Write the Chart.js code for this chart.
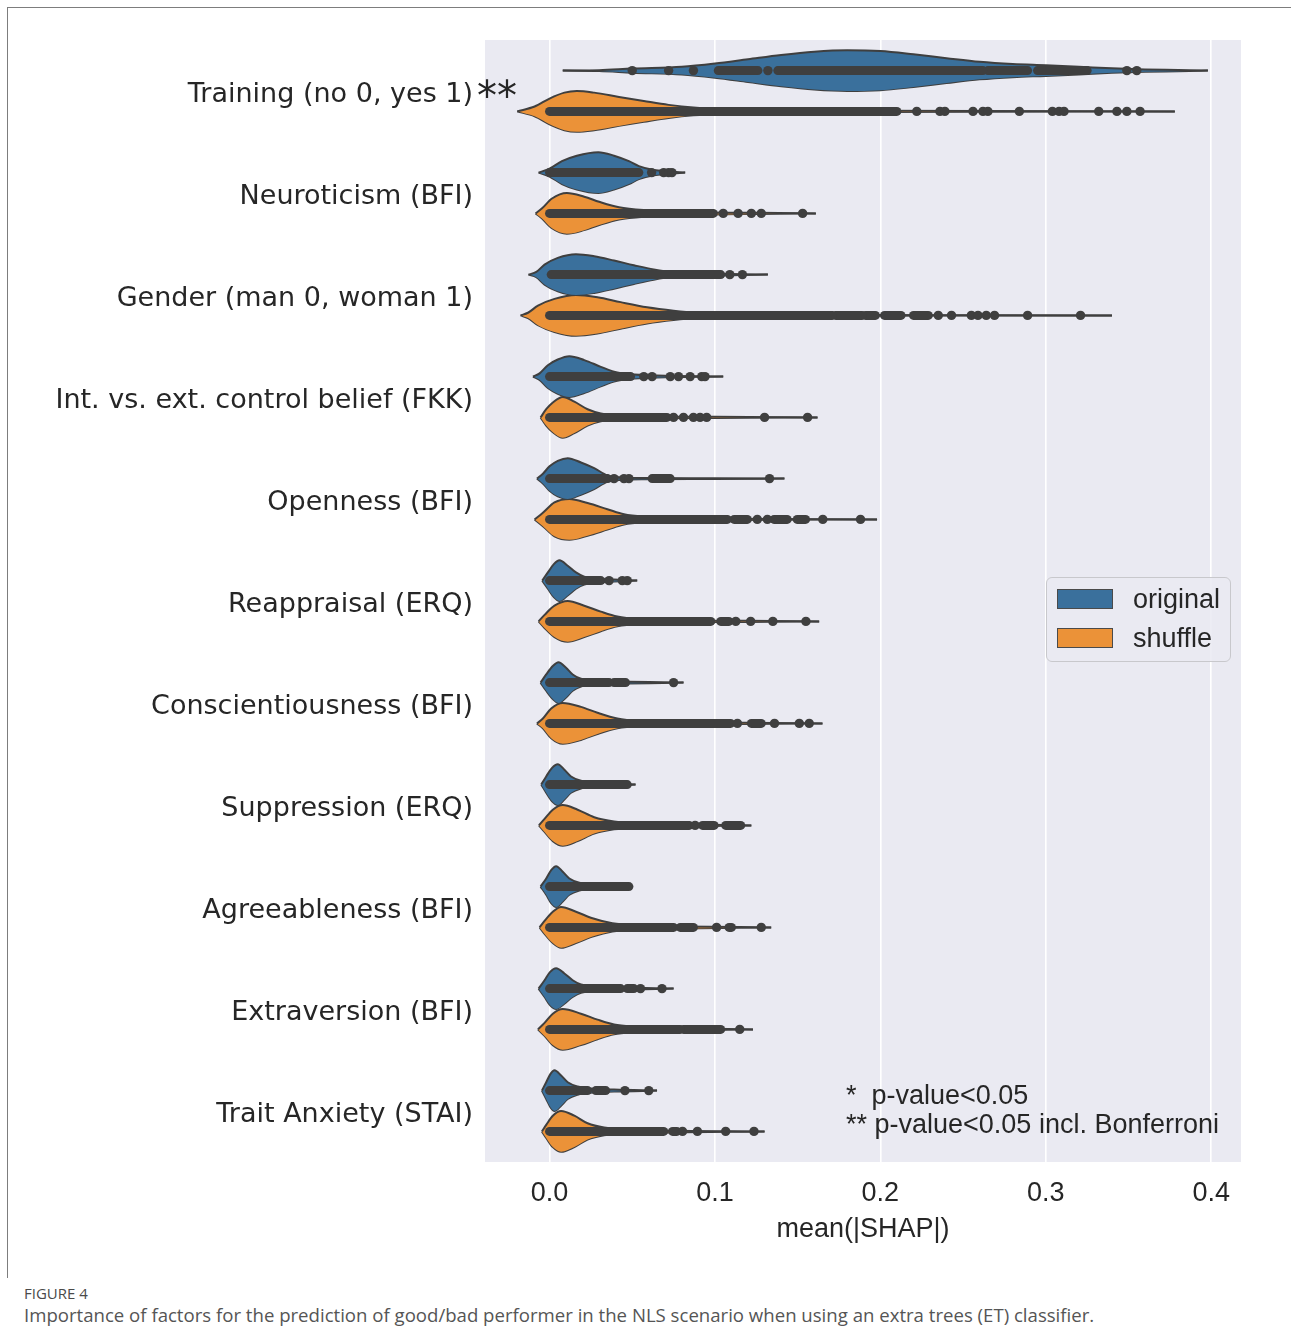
<!DOCTYPE html>
<html>
<head>
<meta charset="utf-8">
<script src="https://cdn.jsdelivr.net/npm/chart.js@4.4.1/dist/chart.umd.min.js"></script>
<style>
  html, body { margin: 0; padding: 0; background: #fff; }
  #wrap { position: relative; width: 1291px; height: 1331px; overflow: hidden; }
  #frame { position: absolute; left: 7px; top: 7px; width: 1300px; height: 1270px;
    border-left: 1px solid #7d7d7d; border-top: 1px solid #7d7d7d; }
  #chart { position: absolute; left: 0; top: 0; }
  .lab { position: absolute; font-family: "Liberation Sans", Arial, sans-serif; font-size: 27px;
    color: #262626; white-space: pre; line-height: 30px; }
  #stars { position: absolute; left: 477px; top: 76px; font-family: "DejaVu Sans", sans-serif;
    font-size: 40px; color: #262626; line-height: 40px; }
  #legend { position: absolute; left: 1046px; top: 577px; width: 183px; height: 83px;
    border: 1.5px solid #c8c8cc; border-radius: 6px; background: rgba(234,234,242,0.85); }
  .patch { position: absolute; left: 10px; width: 54px; height: 18px; border: 1px solid #4a4a4a; }
  .ltxt { position: absolute; left: 86px; font-family: "Liberation Sans", Arial, sans-serif;
    font-size: 27px; color: #262626; line-height: 30px; }
  #fig { position: absolute; left: 24px; top: 1283px; font-family: "Open Sans", sans-serif;
    font-size: 15px; color: #4a4a4a; }
  #cap { position: absolute; left: 24px; top: 1302px; font-family: "Open Sans", sans-serif;
    font-size: 18.6px; color: #555; white-space: nowrap; }
</style>
</head>
<body>
<div id="wrap">
  <div id="frame"></div>
  <canvas id="chart" width="1291" height="1280"></canvas>
  <div id="stars">**</div>
  <div id="legend">
    <div class="patch" style="top:11px;background:#3a709c"></div>
    <div class="ltxt" style="top:6px">original</div>
    <div class="patch" style="top:50px;background:#eb9238"></div>
    <div class="ltxt" style="top:45px">shuffle</div>
  </div>
  <div class="lab" style="left:846px;top:1080px">*  p-value&lt;0.05</div>
  <div class="lab" style="left:846px;top:1109px">** p-value&lt;0.05 incl. Bonferroni</div>
  <div id="fig">FIGURE 4</div>
  <div id="cap">Importance of factors for the prediction of good/bad performer in the NLS scenario when using an extra trees (ET) classifier.</div>
</div>
<script>
// Violin plot of mean(|SHAP|) per factor: original vs. shuffled labels.
// Each violin = outline (x, relative density 0..1), dense point runs [from, to], single points.

const categories = ['Training (no 0, yes 1)', 'Neuroticism (BFI)', 'Gender (man 0, woman 1)',
  'Int. vs. ext. control belief (FKK)', 'Openness (BFI)', 'Reappraisal (ERQ)',
  'Conscientiousness (BFI)', 'Suppression (ERQ)', 'Agreeableness (BFI)', 'Extraversion (BFI)',
  'Trait Anxiety (STAI)'];
const xTicks = [0.0, 0.1, 0.2, 0.3, 0.4];

// outline of "original" violins: x positions and relative half-width
const origShapeX = [
  [0.008, 0.03, 0.05, 0.08, 0.10, 0.12, 0.14, 0.16, 0.18, 0.20, 0.22, 0.24, 0.26, 0.28, 0.30, 0.32, 0.34, 0.36, 0.38, 0.398],
  [-0.0066, 0.0, 0.0075, 0.0165, 0.0295, 0.039, 0.048, 0.054, 0.063, 0.072, 0.082],
  [-0.0127, -0.008, -0.003, 0.005, 0.016, 0.027, 0.039, 0.051, 0.063, 0.075, 0.089, 0.11, 0.132],
  [-0.01, -0.006, -0.001, 0.005, 0.012, 0.021, 0.031, 0.039, 0.049, 0.065, 0.105],
  [-0.0076, -0.004, 0.0, 0.005, 0.011, 0.019, 0.027, 0.035, 0.043, 0.059, 0.1, 0.142],
  [-0.0044, -0.001, 0.0026, 0.006, 0.011, 0.016, 0.021, 0.029, 0.039, 0.053],
  [-0.0054, -0.002, 0.002, 0.0054, 0.01, 0.014, 0.019, 0.027, 0.043, 0.081],
  [-0.005, -0.002, 0.0014, 0.005, 0.009, 0.013, 0.019, 0.027, 0.039, 0.052],
  [-0.0054, -0.002, 0.001, 0.004, 0.008, 0.012, 0.018, 0.026, 0.037, 0.05],
  [-0.0066, -0.003, 0.0004, 0.004, 0.009, 0.014, 0.019, 0.029, 0.043, 0.075],
  [-0.0046, -0.002, 0.0006, 0.003, 0.007, 0.011, 0.017, 0.025, 0.039, 0.065],
];
const origShapeW = [
  [0, 0.02, 0.1, 0.19, 0.35, 0.56, 0.77, 0.93, 1.0, 0.96, 0.8, 0.61, 0.43, 0.32, 0.26, 0.19, 0.11, 0.06, 0.03, 0],
  [0, 0.19, 0.56, 0.83, 1.0, 0.83, 0.56, 0.32, 0.13, 0.06, 0],
  [0, 0.13, 0.49, 0.82, 1.0, 0.9, 0.69, 0.46, 0.25, 0.11, 0.07, 0.03, 0],
  [0, 0.16, 0.56, 0.84, 1.0, 0.81, 0.48, 0.24, 0.11, 0.05, 0],
  [0, 0.24, 0.6, 0.87, 1.0, 0.79, 0.51, 0.16, 0.06, 0.03, 0.016, 0],
  [0, 0.4, 0.81, 1.0, 0.73, 0.4, 0.19, 0.1, 0.05, 0],
  [0, 0.4, 0.81, 1.0, 0.73, 0.4, 0.19, 0.1, 0.05, 0],
  [0, 0.4, 0.81, 1.0, 0.73, 0.4, 0.19, 0.1, 0.05, 0],
  [0, 0.4, 0.81, 1.0, 0.73, 0.4, 0.19, 0.1, 0.05, 0],
  [0, 0.41, 0.82, 1.0, 0.74, 0.41, 0.2, 0.1, 0.05, 0],
  [0, 0.41, 0.82, 1.0, 0.74, 0.41, 0.2, 0.1, 0.05, 0],
];
// outline of "shuffle" violins
const shufShapeX = [
  [-0.0195, -0.009, 0.0, 0.009, 0.0165, 0.027, 0.042, 0.057, 0.072, 0.087, 0.108, 0.138, 0.2, 0.26, 0.378],
  [-0.0084, -0.0045, 0.0015, 0.0105, 0.021, 0.03, 0.042, 0.057, 0.078, 0.099, 0.126, 0.161],
  [-0.0175, -0.013, -0.007, 0.003, 0.016, 0.029, 0.043, 0.059, 0.075, 0.089, 0.12, 0.16, 0.2, 0.26, 0.34],
  [-0.0054, -0.002, 0.002, 0.008, 0.015, 0.023, 0.031, 0.043, 0.059, 0.1, 0.162],
  [-0.009, -0.004, 0.003, 0.012, 0.023, 0.035, 0.045, 0.059, 0.079, 0.11, 0.198],
  [-0.0066, -0.003, 0.003, 0.011, 0.021, 0.031, 0.041, 0.055, 0.079, 0.12, 0.163],
  [-0.0076, -0.004, 0.001, 0.008, 0.019, 0.029, 0.041, 0.055, 0.079, 0.12, 0.165],
  [-0.0064, -0.003, 0.002, 0.008, 0.017, 0.027, 0.039, 0.055, 0.079, 0.122],
  [-0.006, -0.003, 0.002, 0.007, 0.016, 0.026, 0.038, 0.054, 0.078, 0.134],
  [-0.007, -0.003, 0.002, 0.008, 0.019, 0.029, 0.039, 0.051, 0.071, 0.1, 0.123],
  [-0.0046, -0.002, 0.002, 0.007, 0.015, 0.023, 0.033, 0.049, 0.069, 0.13],
];
const shufShapeW = [
  [0, 0.24, 0.63, 0.92, 1.0, 0.92, 0.71, 0.51, 0.32, 0.19, 0.11, 0.06, 0.03, 0.015, 0],
  [0, 0.25, 0.73, 1.0, 0.82, 0.57, 0.3, 0.16, 0.1, 0.05, 0.03, 0],
  [0, 0.13, 0.48, 0.81, 1.0, 0.89, 0.65, 0.4, 0.23, 0.13, 0.06, 0.03, 0.016, 0.008, 0],
  [0, 0.4, 0.73, 1.0, 0.77, 0.4, 0.19, 0.1, 0.05, 0.03, 0],
  [0, 0.33, 0.83, 1.0, 0.8, 0.5, 0.25, 0.13, 0.07, 0.03, 0],
  [0, 0.32, 0.77, 1.0, 0.77, 0.48, 0.24, 0.11, 0.05, 0.03, 0],
  [0, 0.24, 0.73, 1.0, 0.81, 0.52, 0.24, 0.11, 0.05, 0.03, 0],
  [0, 0.32, 0.77, 1.0, 0.77, 0.4, 0.19, 0.1, 0.05, 0],
  [0, 0.32, 0.77, 1.0, 0.77, 0.45, 0.2, 0.1, 0.05, 0],
  [0, 0.32, 0.77, 1.0, 0.77, 0.48, 0.24, 0.13, 0.06, 0.03, 0],
  [0, 0.32, 0.77, 1.0, 0.77, 0.4, 0.19, 0.1, 0.05, 0],
];

// runs of overlapping observations [from, to]
const origBands = [
  [[0.102, 0.126], [0.138, 0.262], [0.265, 0.289], [0.295, 0.325]],
  [[0.0, 0.054]],
  [[0.001, 0.1035]],
  [[0.0, 0.049]],
  [[0.0, 0.035], [0.062, 0.073]],
  [[0.0, 0.031]],
  [[0.0, 0.036], [0.039, 0.046]],
  [[0.0, 0.047]],
  [[0.0, 0.048]],
  [[0.0, 0.043], [0.047, 0.051]],
  [[0.0, 0.023], [0.028, 0.034]],
];
const shufBands = [
  [[0.0, 0.21]],
  [[0.0, 0.099]],
  [[0.0, 0.171], [0.173, 0.189], [0.191, 0.197], [0.2025, 0.2125], [0.22, 0.229]],
  [[0.0, 0.071]],
  [[0.0, 0.1075], [0.1116, 0.1196], [0.1357, 0.1437], [0.1497, 0.1548]],
  [[0.0, 0.0975], [0.1035, 0.1085]],
  [[0.0, 0.1095], [0.122, 0.128]],
  [[0.0, 0.0845], [0.0925, 0.0995], [0.1065, 0.1156]],
  [[0.0, 0.075], [0.079, 0.087], [0.1085, 0.11]],
  [[0.0, 0.079], [0.081, 0.1035]],
  [[0.0, 0.069], [0.0744, 0.077]],
];
// single observations
const origDots = [
  [0.05, 0.072, 0.087, 0.132, 0.349, 0.355],
  [0.0617, 0.069, 0.072, 0.074],
  [0.109, 0.1166],
  [0.057, 0.062, 0.073, 0.078, 0.085, 0.092, 0.094],
  [0.039, 0.045, 0.048, 0.133],
  [0.036, 0.044, 0.047],
  [0.075],
  [],
  [],
  [0.055, 0.068],
  [0.0456, 0.06],
];
const shufDots = [
  [0.222, 0.236, 0.239, 0.256, 0.262, 0.265, 0.284, 0.304, 0.308, 0.311, 0.332, 0.343, 0.349, 0.357],
  [0.105, 0.114, 0.122, 0.128, 0.153],
  [0.235, 0.243, 0.255, 0.259, 0.264, 0.269, 0.289, 0.321],
  [0.075, 0.081, 0.087, 0.091, 0.095, 0.13, 0.156],
  [0.1256, 0.1317, 0.1652, 0.188],
  [0.1126, 0.1216, 0.135, 0.155],
  [0.1136, 0.136, 0.151, 0.157],
  [0.088],
  [0.101, 0.128],
  [0.115],
  [0.0804, 0.0894, 0.1065, 0.1236],
];

const HUES = [
  { name: 'original', color: '#3a709c', off: -0.2, sx: origShapeX, sw: origShapeW, bands: origBands, dots: origDots },
  { name: 'shuffle', color: '#eb9238', off: 0.2, sx: shufShapeX, sw: shufShapeW, bands: shufBands, dots: shufDots },
];
const HALF = 0.2;        // max half-width of a violin, in category units
const EDGE = '#3f3f3f';

const datasets = [];
const dotData = [];
HUES.forEach((h) => {
  categories.forEach((cat, i) => {
    const c = i + h.off;
    const xs = h.sx[i], ws = h.sw[i];
    const common = { borderColor: EDGE, borderWidth: 2, pointRadius: 0, cubicInterpolationMode: 'monotone', order: 3 };
    datasets.push({ ...common, label: h.name, data: xs.map((x, k) => ({ x, y: c - ws[k] * HALF })),
      fill: '+1', backgroundColor: h.color });
    datasets.push({ ...common, label: h.name, data: xs.map((x, k) => ({ x, y: c + ws[k] * HALF })),
      fill: false });
    h.bands[i].forEach(([a, b]) => {
      datasets.push({ data: [{ x: a, y: c }, { x: b, y: c }], borderColor: EDGE, borderWidth: 9,
        borderCapStyle: 'round', pointRadius: 0, fill: false, order: 1 });
    });
    h.dots[i].forEach((x) => dotData.push({ x, y: c }));
  });
});
datasets.push({ data: dotData, showLine: false, pointRadius: 4.7, pointBackgroundColor: EDGE,
  pointBorderWidth: 0, order: 0 });

const plotBg = {
  id: 'plotBg',
  beforeDraw(chart) {
    const { ctx, chartArea: a } = chart;
    ctx.save();
    ctx.fillStyle = '#eaeaf2';
    ctx.fillRect(a.left, a.top, a.right - a.left, a.bottom - a.top);
    ctx.restore();
  },
};

new Chart(document.getElementById('chart'), {
  type: 'line',
  data: { datasets },
  options: {
    responsive: false, animation: false, events: [],
    layout: { padding: { left: 0, top: 40, right: 50, bottom: 18 } },
    plugins: { legend: { display: false }, tooltip: { enabled: false } },
    scales: {
      x: {
        type: 'linear', min: -0.039, max: 0.418,
        afterBuildTicks: (s) => { s.ticks = xTicks.map((v) => ({ value: v })); },
        afterFit: (s) => { s.height = 100; },
        ticks: { padding: 15, color: '#262626', font: { family: 'Liberation Sans', size: 27 },
          callback: (v) => v.toFixed(1) },
        grid: { color: '#ffffff', lineWidth: 1.6, drawTicks: false },
        border: { display: false },
        title: { display: true, text: 'mean(|SHAP|)', color: '#262626',
          font: { family: 'Liberation Sans', size: 27 }, padding: { top: 0, bottom: 16 } },
      },
      y: {
        type: 'linear', min: -0.5, max: 10.5, reverse: true,
        afterBuildTicks: (s) => { s.ticks = categories.map((c, i) => ({ value: i })); },
        afterFit: (s) => { s.width = 485; },
        ticks: { padding: 12, labelOffset: 4, color: '#262626', font: { family: 'DejaVu Sans', size: 27 },
          callback: (v) => categories[v] },
        grid: { display: false, drawTicks: false },
        border: { display: false },
      },
    },
  },
  plugins: [plotBg],
});
</script>
</body>
</html>
